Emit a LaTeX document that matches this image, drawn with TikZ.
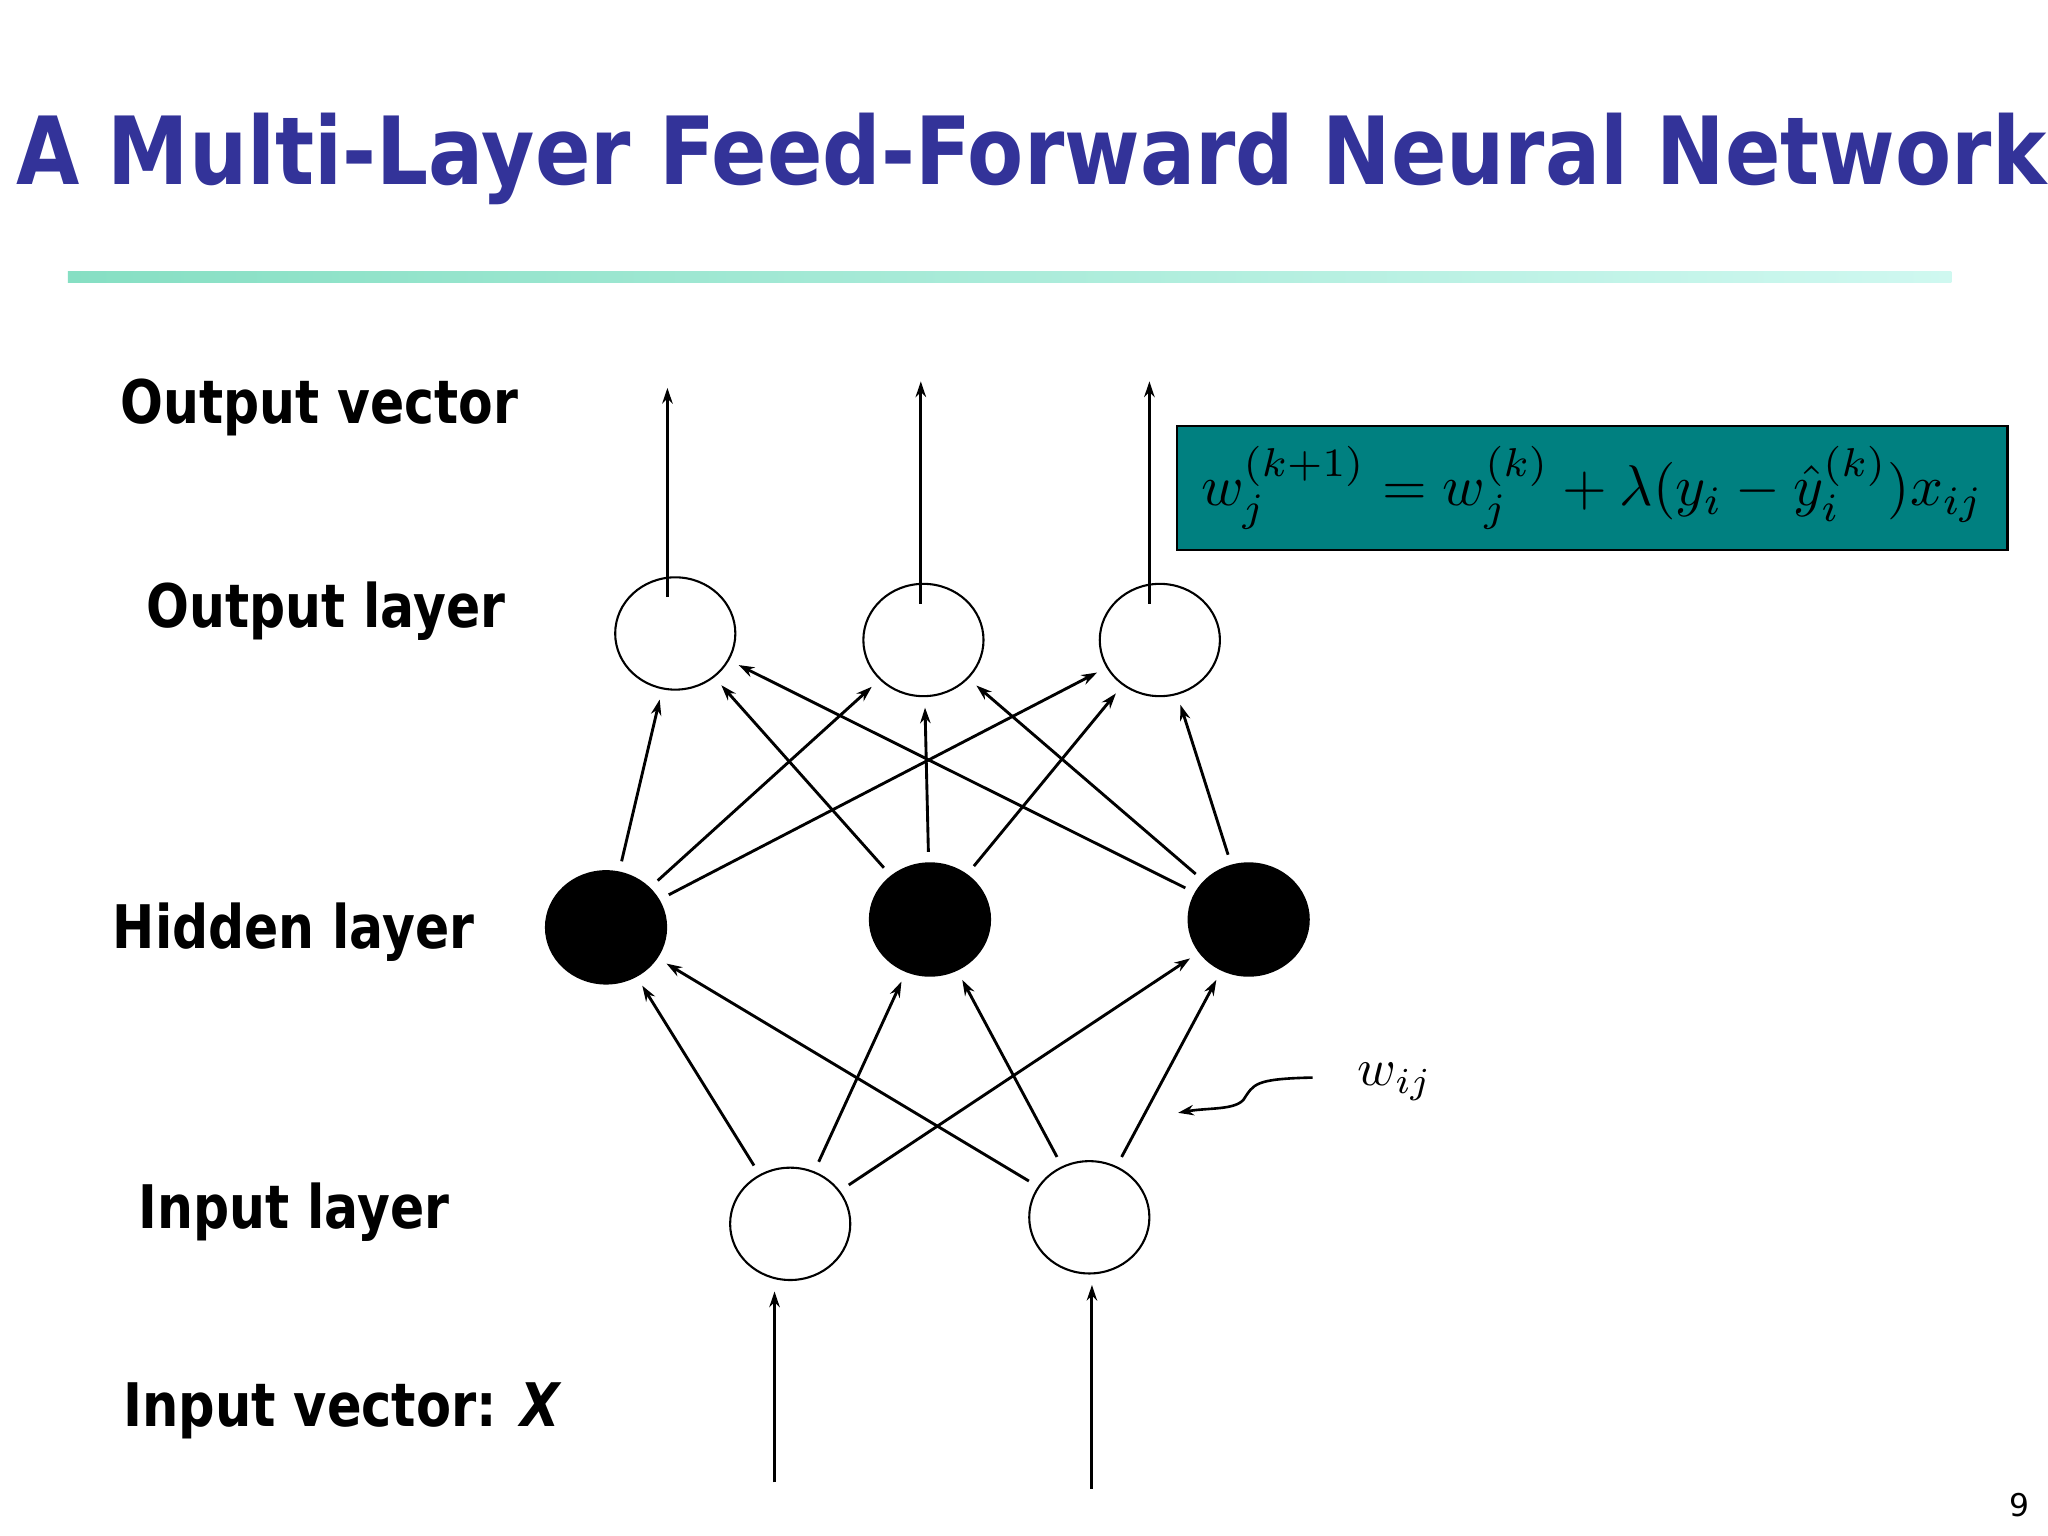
\documentclass[tikz,border=0pt]{standalone}
\usepackage{fontspec}
\usepackage{graphicx}
\setmainfont{DejaVu Sans}
\usetikzlibrary{shapes.geometric,arrows.meta}
\begin{document}
\begin{tikzpicture}[x=0.5pt,y=-0.5pt,
  neu/.style={ellipse,draw,line width=0.8pt,minimum width=46pt,minimum height=43pt,inner sep=0pt},
  hid/.style={neu,fill=black},
  con/.style={line width=1.1pt,-{Stealth[length=6pt,width=4pt]},shorten >=4pt,shorten <=4pt},
  lab/.style={font=\bfseries\fontsize{23}{26}\selectfont,anchor=west,inner sep=0pt}]
\useasboundingbox (0,0) rectangle (1568,1176);
\fill[white] (0,0) rectangle (1568,1176);
\definecolor{tc}{HTML}{333399}
\node[anchor=west,text=tc,font=\bfseries\fontsize{36}{40}\selectfont,inner sep=0pt] (title) at (12,122) {\scalebox{0.87}[1]{A Multi-Layer Feed-Forward Neural Network}};
\definecolor{ga}{HTML}{86DFC3}\definecolor{gb}{HTML}{CFF8F0}
\shade[left color=ga,right color=gb] (52,208) rectangle (1494,216);
\node[lab] (l1) at (92,312) {\scalebox{0.84}[1]{Output vector}};
\node[lab] (l2) at (112,468) {\scalebox{0.84}[1]{Output layer}};
\node[lab] (l3) at (86,714) {\scalebox{0.84}[1]{Hidden layer}};
\node[lab] (l4) at (106,928) {\scalebox{0.84}[1]{Input layer}};
\node[lab] (l5) at (94,1080) {\scalebox{0.85}[1]{Input vector: \textit{X}}};
\node[neu] (o1) at (517,485) {};
\node[neu] (o2) at (707,490) {};
\node[neu] (o3) at (888,490) {};
\node[hid] (h1) at (464,710) {};
\node[hid] (h2) at (712,704) {};
\node[hid] (h3) at (956,704) {};
\node[neu] (i1) at (605,937) {};
\node[neu] (i2) at (834,932) {};
\foreach \h in {h1,h2,h3}{\foreach \o in {o1,o2,o3}{\draw[con] (\h) -- (\o);}}
\foreach \i in {i1,i2}{\foreach \h in {h1,h2,h3}{\draw[con] (\i) -- (\h);}}
\coordinate (a1) at (593,1135);\coordinate (a2) at (836,1140);
\draw[con,shorten <=0pt] (a1) -- (i1.south -| a1);
\draw[con,shorten <=0pt] (a2) -- (i2.south -| a2);
\coordinate (b1) at (511,297);\coordinate (b2) at (705,292);\coordinate (b3) at (880,292);
\draw[con,shorten >=0pt,shorten <=-8pt] (o1.north -| b1) -- (b1);
\draw[con,shorten >=0pt,shorten <=-8pt] (o2.north -| b2) -- (b2);
\draw[con,shorten >=0pt,shorten <=-8pt] (o3.north -| b3) -- (b3);
\definecolor{teal2}{HTML}{008080}
\node[draw,fill=teal2,line width=0.8pt,minimum width=318pt,minimum height=47.5pt,inner sep=0pt] (f) at (1219,373.5) {\scalebox{2.2}{$w_j^{(k+1)} = w_j^{(k)} + \lambda(y_i - \hat{y}_i^{(k)})x_{ij}$}};
\node (w) at (1068,828) {\scalebox{2}{$w_{ij}$}};
\coordinate (c0) at (1005,825);\coordinate (c1) at (902,852);
\draw[line width=1pt,-{Stealth[length=6pt,width=4pt]}] (c0) .. controls (960,826) and (960,830) .. (952,842) .. controls (945,850) and (925,848) .. (c1);
\node[font=\fontsize{12}{14}\selectfont] (pg) at (1546,1152) {9};
\end{tikzpicture}
\end{document}
